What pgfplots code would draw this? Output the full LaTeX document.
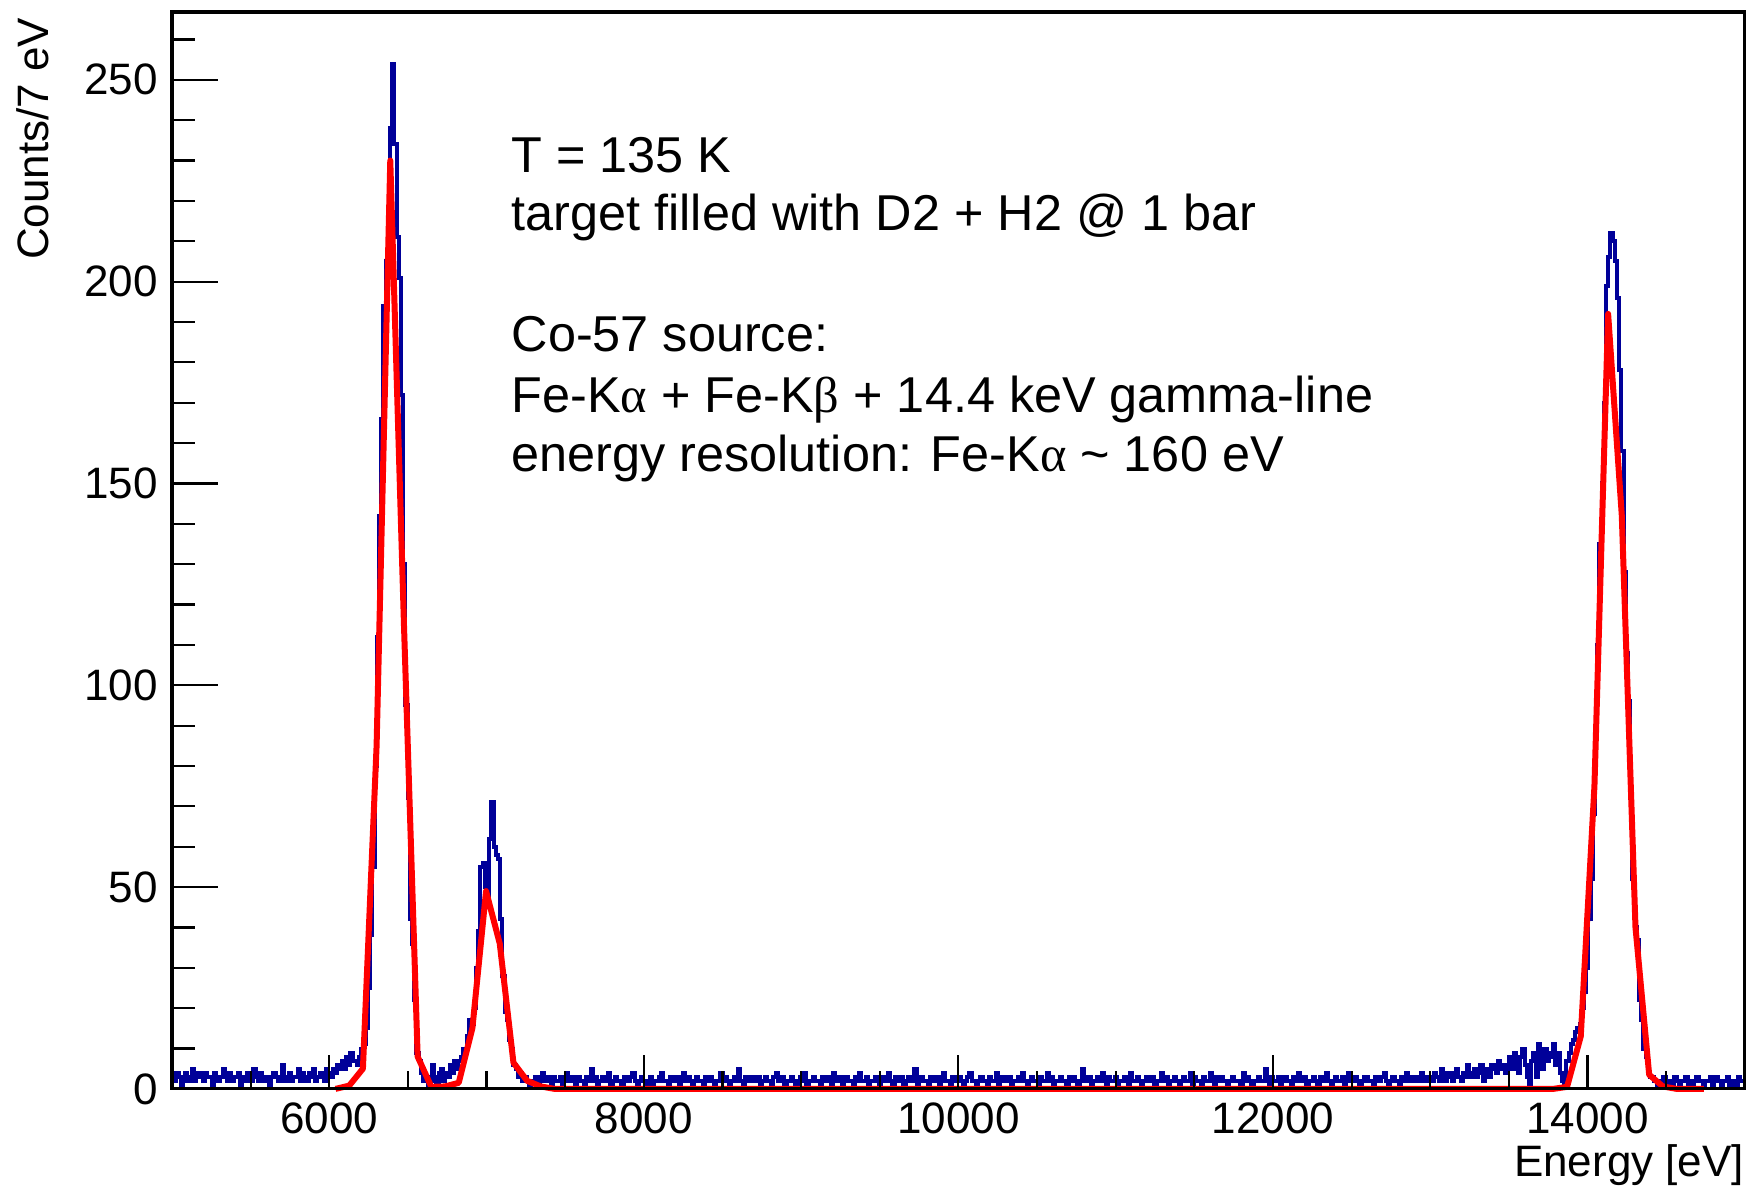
\documentclass[border=0pt]{standalone}
\usepackage{fontspec}
\setmainfont{Liberation Sans}
\newfontfamily\greekfont{Liberation Serif}
\usepackage{pgfplots}
\usepackage{pgfplotstable}
\pgfplotsset{compat=1.18}
\definecolor{histblue}{RGB}{0,0,153}

% counts per bin, bins of ~14 eV from 5000 eV to 15000 eV
\pgfplotstableread[header=false,row sep=\\]{
3\\2\\4\\3\\1\\3\\4\\2\\3\\5\\2\\3\\4\\3\\2\\4\\3\\3\\1\\4\\
3\\2\\3\\5\\3\\2\\4\\2\\3\\3\\4\\1\\3\\2\\4\\3\\2\\5\\3\\2\\
4\\3\\2\\3\\1\\3\\4\\3\\2\\3\\6\\2\\3\\4\\2\\3\\3\\5\\2\\4\\
3\\2\\4\\3\\5\\2\\3\\4\\3\\2\\5\\
4\\3\\5\\4\\6\\5\\7\\5\\8\\6\\9\\7\\
7\\6\\8\\10\\11\\15\\25\\38\\55\\80\\112\\142\\166\\194\\205\\216\\238\\254\\234\\211\\
201\\172\\130\\95\\72\\42\\36\\22\\9\\7\\4\\2\\3\\
1\\2\\6\\3\\1\\4\\5\\2\\4\\3\\6\\4\\7\\5\\7\\
8\\10\\9\\13\\17\\16\\20\\30\\39\\55\\56\\50\\46\\62\\71\\60\\58\\57\\42\\28\\
19\\17\\12\\10\\6\\5\\3\\4\\2\\3\\2\\1\\2\\
2\\3\\1\\2\\4\\2\\3\\2\\1\\3\\2\\2\\3\\1\\2\\4\\2\\3\\2\\1\\
3\\2\\2\\1\\3\\2\\5\\2\\3\\1\\2\\3\\2\\2\\4\\1\\2\\3\\2\\2\\
1\\3\\2\\2\\3\\4\\2\\1\\2\\3\\2\\0\\2\\3\\1\\2\\2\\3\\4\\2\\
2\\1\\3\\2\\2\\3\\1\\2\\4\\2\\3\\2\\1\\2\\3\\2\\2\\1\\3\\2\\
3\\2\\1\\2\\2\\4\\2\\3\\2\\1\\2\\3\\2\\5\\2\\1\\3\\2\\2\\3\\
2\\2\\3\\1\\2\\3\\2\\2\\1\\3\\4\\2\\2\\3\\1\\2\\2\\3\\2\\1\\
2\\3\\2\\4\\1\\2\\2\\3\\2\\2\\1\\3\\2\\2\\3\\1\\4\\2\\2\\3\\
1\\2\\3\\2\\2\\1\\3\\2\\4\\2\\2\\3\\1\\2\\2\\3\\2\\1\\2\\3\\
2\\4\\2\\1\\3\\2\\2\\3\\1\\2\\3\\2\\2\\5\\1\\2\\3\\2\\2\\1\\
3\\2\\2\\3\\1\\2\\4\\2\\2\\1\\3\\2\\2\\3\\2\\1\\2\\3\\4\\2\\
2\\1\\2\\3\\2\\2\\1\\3\\2\\2\\4\\1\\2\\3\\2\\2\\3\\1\\2\\2\\
3\\2\\4\\2\\1\\2\\3\\2\\2\\1\\3\\2\\2\\4\\2\\3\\1\\2\\2\\3\\
2\\2\\1\\3\\2\\3\\2\\1\\2\\5\\2\\2\\3\\1\\2\\2\\3\\2\\4\\2\\
1\\3\\2\\2\\3\\1\\2\\2\\3\\2\\1\\4\\2\\2\\3\\2\\1\\2\\3\\2\\
2\\3\\1\\2\\2\\4\\2\\3\\1\\2\\2\\3\\2\\1\\2\\3\\2\\2\\4\\1\\
3\\2\\2\\1\\3\\2\\2\\4\\2\\1\\3\\2\\3\\2\\2\\1\\2\\3\\2\\2\\
2\\1\\4\\2\\3\\2\\1\\2\\2\\3\\2\\2\\5\\2\\1\\3\\2\\2\\3\\1\\
2\\3\\2\\2\\1\\3\\2\\4\\2\\2\\3\\1\\2\\2\\3\\2\\1\\3\\2\\2\\
4\\2\\1\\2\\3\\2\\2\\3\\1\\2\\4\\2\\2\\3\\2\\1\\2\\3\\3\\2\\
2\\1\\3\\2\\2\\3\\4\\2\\1\\2\\3\\2\\2\\1\\3\\2\\4\\3\\2\\3\\
2\\3\\2\\4\\3\\2\\3\\
3\\2\\4\\3\\2\\5\\3\\2\\4\\3\\2\\4\\5\\3\\2\\4\\3\\6\\3\\4\\
5\\3\\4\\6\\2\\5\\4\\3\\6\\5\\4\\7\\5\\6\\4\\
6\\8\\5\\9\\7\\4\\8\\10\\6\\3\\1\\7\\9\\3\\11\\8\\5\\10\\7\\9\\
8\\11\\6\\9\\4\\2\\1\\7\\9\\11\\
12\\14\\15\\16\\20\\24\\30\\42\\52\\68\\88\\110\\135\\150\\170\\199\\206\\212\\210\\205\\
196\\178\\158\\128\\108\\96\\72\\52\\40\\37\\22\\17\\10\\8\\4\\3\\3\\2\\1\\
2\\1\\3\\1\\2\\2\\1\\3\\2\\1\\2\\2\\3\\1\\2\\1\\2\\3\\2\\2\\
1\\2\\2\\3\\1\\2\\3\\2\\1\\2\\2\\3\\1\\2\\2\\1\\3\\2\\2\\2\\
}\spectrum

\begin{document}
\begin{tikzpicture}
\begin{axis}[name=ax,
  width=393.25pt, height=269.25pt, scale only axis,
  xmin=5000, xmax=15000, ymin=0, ymax=266.8,
  clip=false, axis on top,
  xtick={6000,8000,10000,12000,14000},
  ytick={0,50,100,150,200,250},
  minor xtick={5500,6500,7000,7500,8500,9000,9500,10500,11000,11500,12500,13000,13500,14500},
  minor ytick={10,20,30,40,60,70,80,90,110,120,130,140,160,170,180,190,210,220,230,240,260},
  tick pos=left, tick align=inside,
  xtick style={/pgfplots/major tick length=8.5pt, /pgfplots/minor tick length=4.5pt, line width=0.55pt, black},
  ytick style={/pgfplots/major tick length=11.5pt, /pgfplots/minor tick length=5.8pt, line width=0.55pt, black},
  axis line style={line width=0.8pt},
  scaled ticks=false,
  /pgf/number format/1000 sep={},
  /pgf/number format/assume math mode=true,
  tick label style={font=\fontsize{11}{13}\selectfont},
  xlabel={Energy [eV]},
  xlabel style={at={([yshift=-22pt]rel axis cs:1,0)}, anchor=base east, inner sep=0pt, font=\fontsize{11}{13}\selectfont},
  ylabel={Counts/7 eV},
  ylabel style={at={([xshift=-30.75pt,yshift=-1.25pt]rel axis cs:0,1)}, anchor=base east, inner sep=0pt, font=\fontsize{11}{13}\selectfont},
]
\addplot[const plot, histblue, line width=1pt] table[x expr={5000+14.0056*\coordindex}, y index=0] {\spectrum};
\addplot[red, line width=1.5pt, line join=round] coordinates {
  (6040,0) (6127,0.8) (6214,5) (6301,85) (6388,230) (6475,115) (6562,8) (6649,0.5)
  (6736,0.6) (6823,1.5) (6910,15) (6997,49) (7084,36) (7171,6.5) (7258,2) (7345,0.6)
  (7432,0) (9000,0) (11000,0) (13783,0) (13870,0.5) (13957,13) (14044,75) (14131,192)
  (14218,142) (14305,40) (14392,3.5) (14479,0.6) (14566,0) (14653,0) (14740,0)};
\begin{scope}[every node/.style={anchor=base west, inner sep=0pt, font=\fontsize{12.6}{15}\selectfont}]
\node at (axis cs:7155,227.0) {T = 135 K};
\node at (axis cs:7155,212.6) {target filled with D2 + H2 @ 1 bar};
\node at (axis cs:7155,182.7) {Co-57 source:};
\node at (axis cs:7155,167.5) {Fe-K{\greekfont α} + Fe-K{\greekfont β} + 14.4 keV gamma-line};
\node at (axis cs:7155,153.0) {energy resolution: Fe-K{\greekfont α} \textasciitilde{} 160 eV};
\end{scope}
\end{axis}
\pgfresetboundingbox
\path[use as bounding box] ([xshift=-43pt,yshift=-24.5pt]ax.south west) rectangle ([xshift=0.3pt,yshift=3pt]ax.north east);
\end{tikzpicture}
\end{document}
